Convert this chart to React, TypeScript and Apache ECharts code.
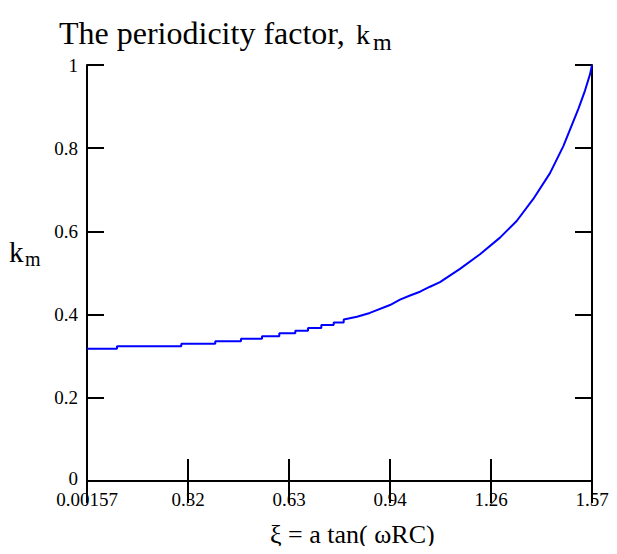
import React, { useEffect, useRef } from "react";
import * as echarts from "echarts";

// x-axis tick labels
const xTickLabels = ["0.00157", "0.32", "0.63", "0.94", "1.26", "1.57"];
const xMin = 0.00157;
const xMax = 1.57;

// flat staircase part of the curve (step start positions and levels)
const stepXi = [0.00157, 0.0947, 0.2945, 0.3999, 0.4798, 0.5451, 0.5988, 0.6485, 0.688, 0.7293, 0.7678, 0.7989];
const stepKm = [0.318, 0.324, 0.330, 0.336, 0.342, 0.348, 0.355, 0.361, 0.368, 0.375, 0.381, 0.388];

// rising part of the curve
const curveXi = [0.84, 0.88, 0.9426, 0.9737, 1.0048, 1.0358, 1.0669, 1.0979, 1.16, 1.2222, 1.2843, 1.3361, 1.3877, 1.4396, 1.481, 1.502, 1.528, 1.548, 1.564, 1.57];
const curveKm = [0.395, 0.404, 0.423, 0.436, 0.446, 0.455, 0.467, 0.478, 0.510, 0.545, 0.585, 0.625, 0.678, 0.740, 0.805, 0.845, 0.895, 0.938, 0.978, 1.0];

const FONT = "Liberation Serif";

export default function App() {
  const ref = useRef<HTMLDivElement>(null);
  useEffect(() => {
    if (!ref.current) return;
    const chart = echarts.init(ref.current, null, { renderer: "svg" });
    const data: number[][] = [];
    for (let i = 0; i < stepXi.length; i++) {
      if (i > 0) data.push([stepXi[i], stepKm[i - 1]]);
      data.push([stepXi[i], stepKm[i]]);
    }
    for (let i = 0; i < curveXi.length; i++) data.push([curveXi[i], curveKm[i]]);
    const interval = (xMax - xMin) / 5;
    const xFmt = (v: number) => {
      const idx = Math.round((v - xMin) / interval);
      return xTickLabels[idx] ?? "";
    };
    const yFmt = (v: number) => {
      const s = String(parseFloat(v.toFixed(1)));
      return v === 0 ? "{z|" + s + "}" : s;
    };
    const axisLine = { show: true, lineStyle: { color: "#000", width: 2 } };
    chart.setOption({
      animation: false,
      backgroundColor: "#fff",
      textStyle: { fontFamily: FONT },
      grid: { left: 87, right: 25, top: 65, bottom: 73, containLabel: false },
      xAxis: [
        {
          type: "value", position: "bottom", min: xMin, max: xMax, interval,
          axisLine,
          axisTick: { show: true, inside: true, length: 22, lineStyle: { color: "#000", width: 2 } },
          axisLabel: { formatter: xFmt, color: "#000", fontFamily: FONT, fontSize: 19, margin: 9, showMinLabel: true, showMaxLabel: true },
          splitLine: { show: false },
        },
        {
          type: "value", position: "top", min: xMin, max: xMax, interval,
          axisLine,
          axisTick: { show: true, inside: true, length: 22, lineStyle: { color: "#000", width: 2 } },
          axisLabel: { show: false },
          splitLine: { show: false },
        },
      ],
      yAxis: [
        {
          type: "value", position: "left", min: 0, max: 1, interval: 0.2,
          axisLine,
          axisTick: { show: true, inside: true, length: 17, lineStyle: { color: "#000", width: 2 } },
          axisLabel: {
            formatter: yFmt, color: "#000", fontFamily: FONT, fontSize: 19, margin: 9,
            rich: { z: { color: "#000", fontFamily: FONT, fontSize: 19, padding: [0, 0, 5, 0] } },
          },
          splitLine: { show: false },
        },
        {
          type: "value", position: "right", min: 0, max: 1, interval: 0.2,
          axisLine,
          axisTick: { show: true, inside: true, length: 17, lineStyle: { color: "#000", width: 2 } },
          axisLabel: { show: false },
          splitLine: { show: false },
        },
      ],
      series: [
        {
          type: "line", xAxisIndex: 0, yAxisIndex: 0, data,
          showSymbol: false, symbol: "none",
          lineStyle: { color: "#0000ff", width: 2 },
        },
      ],
      graphic: [
        { type: "text", left: 59, top: 17, style: { text: "The periodicity factor,", fontFamily: FONT, fontSize: 32, fill: "#000" } },
        { type: "text", left: 356, top: 20, style: { text: "k", fontFamily: FONT, fontSize: 28, fill: "#000" } },
        { type: "text", left: 373, top: 30, style: { text: "m", fontFamily: FONT, fontSize: 24, fill: "#000" } },
        { type: "text", left: 9, top: 237, style: { text: "k", fontFamily: FONT, fontSize: 29, fill: "#000" } },
        { type: "text", left: 25, top: 249, style: { text: "m", fontFamily: FONT, fontSize: 20, fill: "#000" } },
        { type: "text", left: 270, top: 521, style: { text: "ξ = a tan( ωRC)", fontFamily: FONT, fontSize: 26, fill: "#000" } },
      ],
    });
    return () => chart.dispose();
  }, []);
  return <div ref={ref} style={{ width: 617, height: 554, margin: -8 }} />;
}
